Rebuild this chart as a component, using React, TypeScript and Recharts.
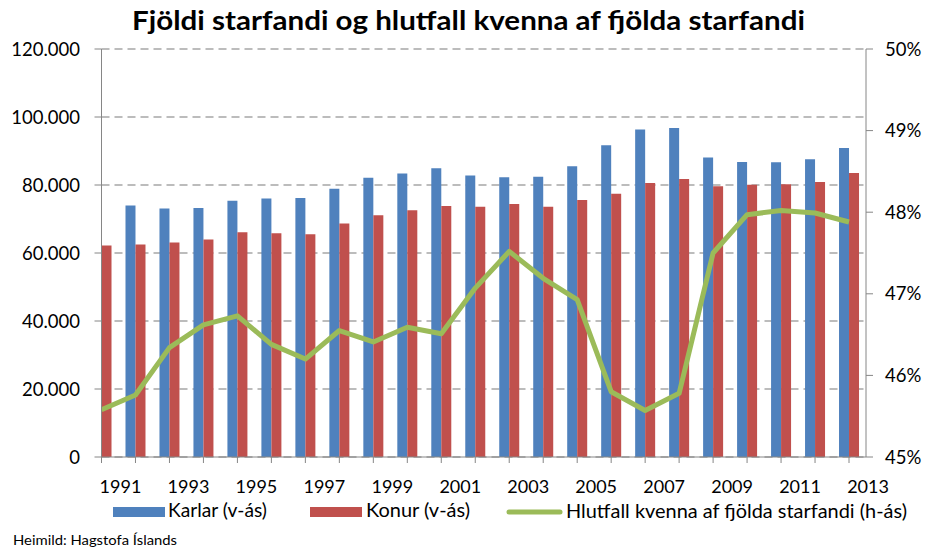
import React from 'react';
import {
  ComposedChart, Bar, Line, XAxis, YAxis, CartesianGrid,
} from 'recharts';

// Starfandi eftir kyni, 1991-2013
const years = [
  1991, 1992, 1993, 1994, 1995, 1996, 1997, 1998, 1999, 2000, 2001, 2002,
  2003, 2004, 2005, 2006, 2007, 2008, 2009, 2010, 2011, 2012, 2013,
];
const karlar = [
  74300, 74000, 73100, 73200, 75400, 76000, 76200, 78900, 82100, 83400, 84900, 82800,
  82300, 82400, 85500, 91700, 96300, 96800, 88100, 86800, 86700, 87600, 90900,
];
const konur = [
  62200, 62500, 63100, 64000, 66100, 65800, 65500, 68700, 71100, 72600, 73800, 73600,
  74400, 73600, 75600, 77400, 80600, 81800, 79600, 80100, 80200, 80900, 83500,
];
const hlutfall = [
  45.58, 45.76, 46.34, 46.62, 46.73, 46.38, 46.2, 46.55, 46.41, 46.59, 46.51, 47.07,
  47.52, 47.19, 46.93, 45.8, 45.57, 45.78, 47.5, 47.97, 48.02, 47.99, 47.88,
];
const leftTicks = [0, 20000, 40000, 60000, 80000, 100000, 120000];
const rightTicks = [45, 46, 47, 48, 49, 50];

const data = years.map((year, i) => ({
  year,
  karlar: karlar[i],
  konur: konur[i],
  hlutfall: hlutfall[i],
}));

const FONT = 'Lato, "Open Sans", sans-serif';
const AXIS = '#868686';
const BLUE = '#4f81bd';
const RED = '#c0504d';
const GREEN = '#9bbb59';

const fmtThousands = (v: number) => String(v).replace(/\B(?=(\d{3})+(?!\d))/g, '.');

function YearTick(props: any) {
  const { x, payload } = props;
  if ((payload.value - 1991) % 2 !== 0) return null;
  return (
    <text x={x + 19} y={493} textAnchor="middle" fontSize={18} fontFamily={FONT} fill="#000">
      {payload.value}
    </text>
  );
}

function LeftTick(props: any) {
  const { y, payload } = props;
  return (
    <text x={80} y={y + 6.5} textAnchor="end" fontSize={18.5} fontFamily={FONT} fill="#000">
      {fmtThousands(payload.value)}
    </text>
  );
}

function RightTick(props: any) {
  const { y, payload } = props;
  return (
    <text x={885} y={y + 6.5} textAnchor="start" fontSize={18.5} fontFamily={FONT} fill="#000">
      {payload.value}%
    </text>
  );
}

export default function App() {
  return (
    <div style={{ position: 'absolute', left: 0, top: 0, width: 925, height: 549, background: '#fff' }}>
      <ComposedChart
        width={925}
        height={549}
        data={data}
        margin={{ top: 49, right: 0, bottom: 0, left: 0 }}
        barGap={0}
      >
        <CartesianGrid
          yAxisId="left"
          vertical={false}
          stroke="#a6a6a6"
          strokeWidth={1.3}
          strokeDasharray="8 5"
        />
        <XAxis
          dataKey="year"
          type="number"
          domain={[1991, 2013.5]}
          allowDataOverflow
          ticks={years}
          interval={0}
          height={92}
          tick={<YearTick />}
          tickSize={6}
          stroke={AXIS}
          tickLine={{ stroke: AXIS }}
        />
        <YAxis
          yAxisId="left"
          orientation="left"
          width={101.5}
          domain={[0, 120000]}
          ticks={leftTicks}
          interval={0}
          tick={<LeftTick />}
          tickSize={7}
          stroke={AXIS}
          tickLine={{ stroke: AXIS }}
        />
        <YAxis
          yAxisId="right"
          orientation="right"
          width={59}
          domain={[45, 50]}
          ticks={rightTicks}
          interval={0}
          tick={<RightTick />}
          tickSize={7}
          stroke={AXIS}
          tickLine={{ stroke: AXIS }}
        />
        <Bar yAxisId="left" dataKey="karlar" fill={BLUE} barSize={10} isAnimationActive={false} />
        <Bar yAxisId="left" dataKey="konur" fill={RED} barSize={10} isAnimationActive={false} />
        <Line
          yAxisId="right"
          dataKey="hlutfall"
          type="linear"
          stroke={GREEN}
          strokeWidth={5}
          strokeLinejoin="round"
          dot={false}
          activeDot={false}
          isAnimationActive={false}
        />
      </ComposedChart>
      <svg
        width={925}
        height={549}
        style={{ position: 'absolute', left: 0, top: 0, pointerEvents: 'none' }}
      >
        <text
          x={132}
          y={30}
          fontSize={26}
          fontWeight="bold"
          fontFamily={FONT}
          fill="#000"
          textLength={673}
          lengthAdjust="spacingAndGlyphs"
        >
          Fjöldi starfandi og hlutfall kvenna af fjölda starfandi
        </text>
        <rect x={113} y={507} width={52} height={10} fill={BLUE} />
        <text x={168} y={517} fontSize={20} fontFamily={FONT} fill="#000" textLength={99} lengthAdjust="spacingAndGlyphs">
          Karlar (v-ás)
        </text>
        <rect x={310} y={507} width={52} height={10} fill={RED} />
        <text x={366} y={517} fontSize={20} fontFamily={FONT} fill="#000" textLength={104} lengthAdjust="spacingAndGlyphs">
          Konur (v-ás)
        </text>
        <line x1={509} y1={512} x2={560} y2={512} stroke={GREEN} strokeWidth={5} strokeLinecap="round" />
        <text x={566} y={518} fontSize={20} fontFamily={FONT} fill="#000" textLength={341} lengthAdjust="spacingAndGlyphs">
          Hlutfall kvenna af fjölda starfandi (h-ás)
        </text>
        <text x={13} y={545} fontSize={14} fontFamily={FONT} fill="#000" textLength={164} lengthAdjust="spacingAndGlyphs">
          Heimild: Hagstofa Íslands
        </text>
      </svg>
    </div>
  );
}
